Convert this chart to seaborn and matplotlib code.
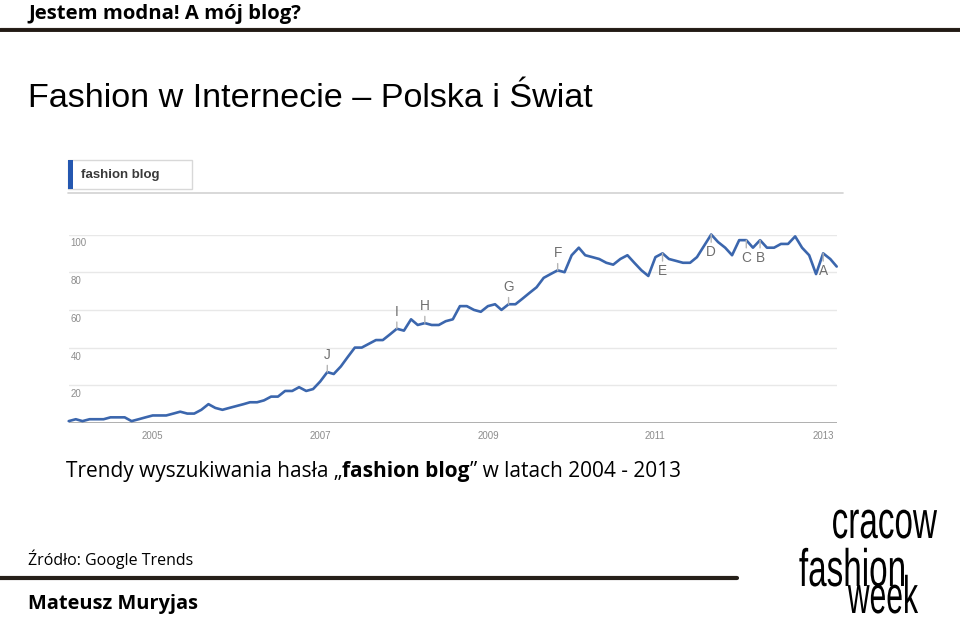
import matplotlib
matplotlib.use("Agg")
import matplotlib.pyplot as plt
import seaborn as sns
import pandas as pd
from matplotlib.patches import Rectangle
from matplotlib.lines import Line2D
from matplotlib.patheffects import AbstractPathEffect
from matplotlib.transforms import Affine2D

# ---------------- data ----------------
start_month = "2004-01-01"
interest = [1, 2, 1, 2, 2, 2, 3, 3, 3, 1, 2, 3, 4, 4, 4, 5, 6, 5, 5, 7, 10, 8, 7, 8, 9, 10, 11,
            11, 12, 14, 14, 17, 17, 19, 17, 18, 22, 27, 26, 30, 35, 40, 40, 42, 44, 44, 47, 50, 49,
            55, 52, 53, 52, 52, 54, 55,
            62, 62, 60, 59, 62, 63, 60, 63, 63, 66, 69, 72, 77, 79, 81, 80, 89, 93, 89, 88, 87, 85,
            84, 87, 89, 85,
            81, 78, 88, 90, 87, 86, 85, 85, 88, 94, 100, 96, 93, 89, 97, 97, 93, 97, 93, 93, 95, 95,
            99, 93, 89, 79, 90, 87, 83]
year_labels = ["2005", "2007", "2009", "2011", "2013"]
y_labels = [20, 40, 60, 80, 100]
event_letters = ["J", "I", "H", "G", "F", "E", "D", "C", "B", "A"]
event_months = [37, 47, 51, 63, 70, 85, 92, 97, 99, 108]
event_above = [True, True, True, True, True, False, False, False, False, False]
search_term = "fashion blog"
caption_parts = ["Trendy wyszukiwania has\u0142a \u201e", search_term, "\u201d w latach 2004 - 2013"]
caption_bold = [False, True, False]

# ---------------- figure ----------------
sns.set_theme(style="white")
plt.rcParams["font.family"] = ["Liberation Sans", "DejaVu Sans"]

W, H = 960, 625
fig = plt.figure(figsize=(9.6, 6.25), dpi=100)
fig.patch.set_facecolor("white")


def fx(x):
    return x / W


def fy(y):
    return 1 - y / H


class Condense(AbstractPathEffect):
    """Narrow the glyph outlines horizontally around a fixed pixel x."""

    def __init__(self, x0, sx):
        super().__init__()
        self.x0 = x0
        self.sx = sx

    def draw_path(self, renderer, gc, tpath, affine, rgbFace=None):
        squeeze = Affine2D().translate(-self.x0, 0).scale(self.sx, 1).translate(self.x0, 0)
        renderer.draw_path(gc, tpath, affine + squeeze, rgbFace)


bg = fig.add_axes([0, 0, 1, 1])
bg.set_xlim(0, W)
bg.set_ylim(H, 0)
bg.axis("off")
renderer = fig.canvas.get_renderer()

CAL = ["Open Sans", "DejaVu Sans"]

# top title and rule
bg.text(28, 18.5, "Jestem modna! A mój blog?", fontsize=14.6, fontweight="bold",
        family=CAL, va="baseline", ha="left", color="#000000")
bg.add_line(Line2D([0, W], [27.5, 27.5], color="#b8b2ad", lw=1.0))
bg.add_line(Line2D([0, W], [30.2, 30.2], color="#221a14", lw=2.8))

# heading
bg.text(28, 107, "Fashion w Internecie \u2013 Polska i \u015awiat", fontsize=24.6,
        family=["Liberation Sans", "DejaVu Sans"], va="baseline", ha="left", color="#000000")

# Google Trends search box
bg.add_patch(Rectangle((68, 160), 124, 29, facecolor="white", edgecolor="#d8d8d8", lw=1.0))
bg.add_patch(Rectangle((68, 160), 4.5, 29, facecolor="#2457b0", edgecolor="none"))
bg.text(81, 175, search_term, fontsize=9.5, fontweight="bold", color="#3a3a3a",
        va="center", ha="left")
bg.add_line(Line2D([68, 843], [193, 193], color="#d2d2d2", lw=1.2))

# ---------------- chart ----------------
x0, x1, ytop, ybase = 68.7, 836.7, 234.5, 423
ax = fig.add_axes([fx(x0), fy(ybase), (x1 - x0) / W, (ybase - ytop) / H])
ax.set_facecolor("none")

df = pd.DataFrame({"month": pd.date_range(start_month, periods=len(interest), freq="MS"),
                   "interest": interest})

for v in y_labels:
    ax.axhline(v, color="#e8e8e8", lw=1.0, zorder=1)
    ax.annotate(str(v), xy=(0, v), xycoords=("axes fraction", "data"), xytext=(2, -4),
                textcoords="offset pixels", ha="left", va="top", fontsize=7, color="#8c8c8c")
ax.axhline(0, color="#a9a9a9", lw=1.3, zorder=2)

sns.lineplot(data=df, x="month", y="interest", ax=ax, color="#3b66ad", linewidth=1.9,
             clip_on=False, zorder=4)

for letter, idx, above in zip(event_letters, event_months, event_above):
    d = df["month"].iloc[idx]
    v = df["interest"].iloc[idx]
    ax.annotate(letter, xy=(d, v), xytext=(0, 10 if above else -11), textcoords="offset pixels",
                ha="center", va="bottom" if above else "top", fontsize=9.8, color="#6e6e6e",
                arrowprops=dict(arrowstyle="-", color="#b5b5b5", lw=1.0, shrinkA=0, shrinkB=0),
                zorder=5, annotation_clip=False)

ax.set_xlim(df["month"].iloc[0], df["month"].iloc[-1])
ax.set_ylim(0, 100)
ax.set_xticks([pd.Timestamp(f"{y}-01-01") for y in year_labels])
ax.set_xticklabels(year_labels, fontsize=7, color="#8c8c8c")
ax.set_yticks([])
ax.tick_params(axis="x", length=0, pad=6)
ax.set_xlabel("")
ax.set_ylabel("")
for s in ax.spines.values():
    s.set_visible(False)

# ---------------- caption & footer ----------------
cap_size = 15
cx = 66
for part, bold in zip(caption_parts, caption_bold):
    t = bg.text(cx, 477, part, fontsize=cap_size, family=CAL,
                fontweight="bold" if bold else "normal",
                va="baseline", ha="left", color="#000000")
    cx = t.get_window_extent(renderer).x1

bg.text(28, 565, "\u0179r\u00f3d\u0142o: Google Trends", fontsize=11.5, family=CAL,
        va="baseline", ha="left", color="#000000")
bg.add_line(Line2D([0, 737], [577.5, 577.5], color="#262019", lw=3.0))
bg.text(28, 609, "Mateusz Muryjas", fontsize=14.4, fontweight="bold", family=CAL,
        va="baseline", ha="left", color="#000000")

# logo (condensed outlines, still real text), anchored at right edges
LOGO = ["Liberation Sans", "DejaVu Sans"]
logo_words = ["cracow", "fashion", "week"]
logo_pos = [(937, 538), (906, 586), (918, 613)]
logo_squeeze = [0.63, 0.63, 0.57]
for word, (lx, ly), sq in zip(logo_words, logo_pos, logo_squeeze):
    bg.text(lx, ly, word, fontsize=38, family=LOGO, va="baseline", ha="right",
            color="#000000", path_effects=[Condense(lx, sq)])

fig.savefig("out.png", dpi=100, facecolor="white")
